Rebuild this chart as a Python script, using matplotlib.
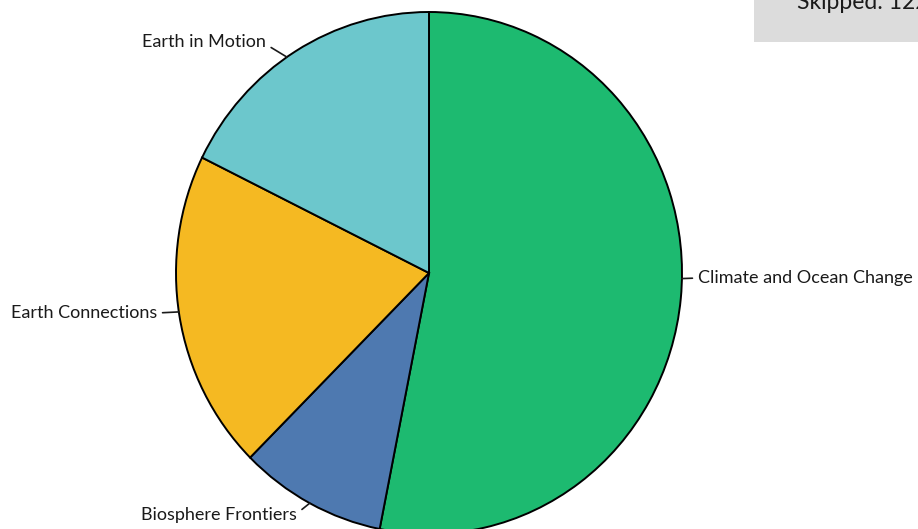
import numpy as np
import matplotlib
matplotlib.use("Agg")
import matplotlib.pyplot as plt
from matplotlib.patches import Rectangle

plt.rcParams['font.family'] = ['Lato', 'DejaVu Sans']

# responses per topic, clockwise from 12 o'clock
topics = ["Climate and Ocean Change", "Biosphere Frontiers",
          "Earth Connections", "Earth in Motion"]
counts = [51, 9, 19, 17]
skipped = 122

colors = ["#1dba70", "#4e79b0", "#f5b922", "#6cc7cc"]

W, H = 918, 529
fig = plt.figure(figsize=(W / 100, H / 100), dpi=100)

# pie box in pixels (slightly taller than wide)
cx, cy, rx, ry = 429, 273, 253, 261
ax = fig.add_axes([(cx - rx) / W, (H - cy - ry) / H, 2 * rx / W, 2 * ry / H])
wedges, _ = ax.pie(counts, colors=colors, startangle=90, counterclock=False,
                   wedgeprops=dict(edgecolor="black", linewidth=1.4))
for w in wedges:
    w.set_clip_on(False)
ax.set_aspect("auto")
ax.set_xlim(-1, 1)
ax.set_ylim(-1, 1)

# label text positions (pixels from top-left), alignment, anchor nudge (deg)
label_xy = [(698, 278), (297, 515), (157, 313), (266, 42)]
label_ha = ["left", "right", "right", "right"]
relpos = [(0, 0.5), (1, 0.6), (1, 0.5), (1, 0.35)]
nudge = [4.4, 0, -0.8, 2.3]

for w, name, (tx, ty), ha, rp, dn in zip(wedges, topics, label_xy, label_ha,
                                           relpos, nudge):
    mid = np.deg2rad((w.theta1 + w.theta2) / 2 + dn)
    ax.annotate(name, xy=(np.cos(mid), np.sin(mid)),
                xytext=(tx, H - ty), textcoords="figure pixels",
                ha=ha, va="center", fontsize=13, color="#1a1a1a",
                annotation_clip=False,
                arrowprops=dict(arrowstyle="-", color="#1a1a1a", lw=1.2,
                                shrinkA=2, shrinkB=0, relpos=rp))

# skipped count box, top right
fig.patches.append(Rectangle((754 / W, (H - 42) / H), (W - 754) / W, 42 / H,
                             transform=fig.transFigure, facecolor="#dcdcdc",
                             edgecolor="none", zorder=0))
fig.text(797 / W, (H - 9) / H, f"Skipped: {skipped}", ha="left",
         va="baseline", fontsize=16.5, color="#1a1a1a")

fig.savefig("out.png", dpi=100, facecolor="white")
